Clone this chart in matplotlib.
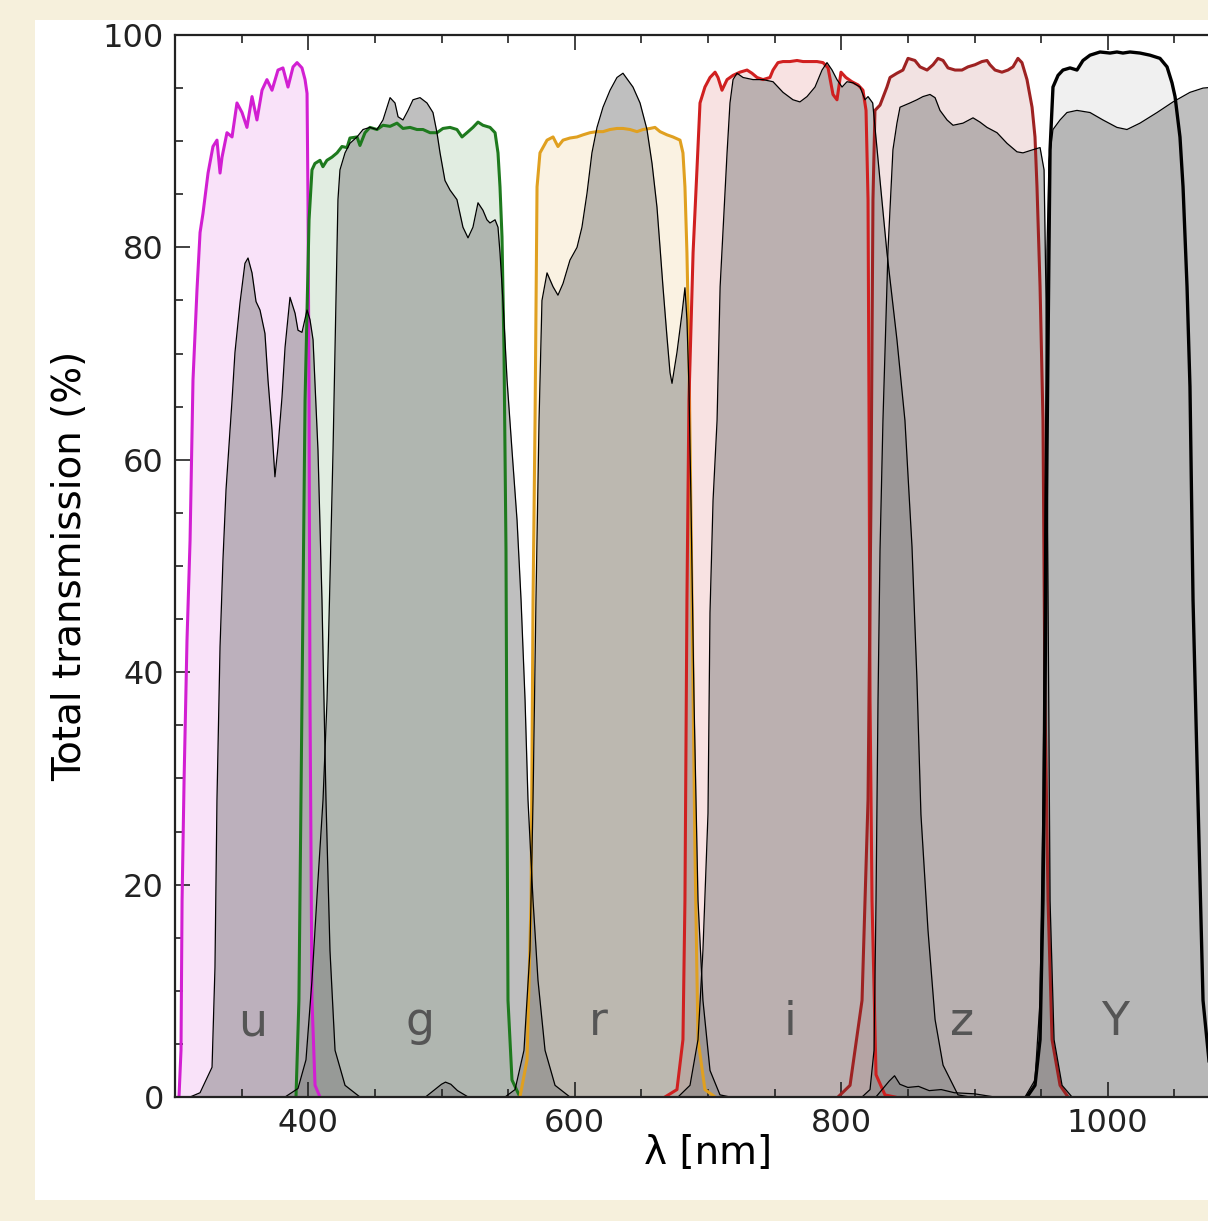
import matplotlib.pyplot as plt
from matplotlib.patches import Rectangle
from matplotlib.ticker import MultipleLocator

# Courbes des filtres (trait coloré) : longueur d'onde (nm) et transmission (%)
u_filtre_nm = [303.0, 304.5, 305.3, 306.8, 309.0, 311.3, 313.5, 316.5, 318.8, 321.0,
               324.8, 328.5, 331.5, 333.8, 335.3, 339.0, 342.8, 346.5, 350.3, 354.0,
               357.8, 361.5, 365.3, 369.0, 372.8, 377.3, 381.0, 384.8, 388.6, 391.6,
               395.3, 397.6, 399.1, 399.8, 400.6, 401.3, 402.8, 405.1, 408.8]
u_filtre_T = [0.0, 4.4, 18.5, 29.8, 43.0, 52.4, 67.5, 76.0, 81.4, 83.2,
              87.0, 89.5, 90.1, 87.0, 88.5, 90.8, 90.4, 93.6, 92.7, 91.3,
              94.2, 92.0, 94.8, 95.8, 94.8, 96.7, 96.9, 95.1, 97.0, 97.4,
              96.9, 95.8, 94.5, 84.5, 65.6, 37.4, 9.1, 1.1, 0.0]

g_filtre_nm = [390.8, 393.0, 395.3, 397.6, 400.6, 402.8, 405.0, 408.8, 411.0, 414.0,
               417.8, 421.6, 425.3, 429.1, 431.3, 436.6, 438.8, 442.6, 446.3, 451.6,
               456.1, 461.4, 466.6, 471.1, 476.4, 481.6, 486.1, 491.4, 496.6, 501.1,
               506.4, 511.6, 515.4, 519.1, 523.6, 527.4, 531.1, 536.4, 540.2, 542.4,
               543.9, 545.4, 546.9, 548.4, 549.2, 549.9, 552.9, 558.9]
g_filtre_T = [0.0, 9.1, 37.4, 65.6, 82.6, 87.3, 87.9, 88.2, 87.6, 88.2,
              88.5, 88.9, 89.5, 89.4, 90.3, 90.4, 89.6, 90.8, 91.3, 91.1,
              91.5, 91.4, 91.7, 91.2, 91.3, 91.1, 91.1, 90.8, 90.8, 91.2,
              91.3, 91.1, 90.4, 90.8, 91.3, 91.8, 91.5, 91.3, 90.8, 88.9,
              85.7, 81.0, 70.3, 51.5, 28.0, 9.1, 1.6, 0.0]

r_filtre_nm = [558.9, 564.2, 567.2, 568.7, 570.2, 571.7, 573.9, 579.2, 583.7, 587.4,
               591.2, 596.4, 601.7, 606.2, 611.4, 616.7, 621.2, 626.5, 631.7, 636.2,
               641.5, 646.7, 651.2, 656.5, 660.2, 664.0, 669.2, 673.7, 679.0, 681.2,
               682.7, 684.2, 685.7, 688.0, 690.2, 692.5, 697.7, 705.3]
r_filtre_T = [0.0, 3.5, 18.5, 46.8, 63.7, 85.7, 88.9, 90.1, 90.4, 89.5,
              90.1, 90.3, 90.4, 90.6, 90.8, 90.9, 90.9, 91.1, 91.2, 91.2,
              91.1, 90.9, 91.1, 91.2, 91.3, 90.9, 90.6, 90.4, 90.1, 88.9,
              85.7, 79.5, 70.1, 46.8, 23.3, 5.4, 0.7, 0.0]

i_filtre_nm = [667.7, 676.7, 681.2, 682.7, 684.2, 685.7, 688.8, 691.7, 694.0, 697.7,
               701.5, 705.3, 707.5, 710.5, 714.3, 718.8, 724.0, 729.3, 733.0, 736.8,
               741.3, 746.5, 748.8, 752.5, 756.3, 761.5, 766.8, 771.3, 776.5, 781.8,
               786.3, 790.1, 793.8, 796.8, 799.8, 803.5, 808.0, 812.6, 816.3, 818.6,
               820.1, 820.8, 821.6, 823.1, 826.1, 832.8, 840.3]
i_filtre_T = [0.0, 0.7, 5.4, 18.5, 46.8, 65.6, 79.5, 87.3, 93.6, 95.1,
              96.0, 96.5, 96.0, 94.8, 95.8, 96.2, 96.5, 96.7, 96.4, 96.0,
              95.8, 96.0, 96.7, 97.4, 97.5, 97.5, 97.6, 97.5, 97.5, 97.5,
              97.4, 96.9, 94.4, 93.9, 96.5, 96.0, 95.6, 95.3, 94.8, 92.9,
              84.5, 65.6, 37.4, 18.5, 2.1, 0.2, 0.0]

z_filtre_nm = [797.6, 806.6, 815.6, 820.1, 822.3, 823.8, 825.3, 829.1, 834.3, 836.6,
               841.8, 846.3, 850.1, 855.3, 859.1, 864.4, 868.9, 872.6, 876.4, 880.1,
               885.4, 890.6, 895.1, 900.4, 905.6, 909.4, 911.6, 915.4, 920.6, 925.1,
               928.9, 932.6, 935.6, 939.4, 943.2, 945.4, 946.9, 949.2, 951.4, 952.9,
               955.2, 958.2, 964.2, 970.2]
z_filtre_T = [0.0, 1.1, 9.1, 28.0, 56.2, 84.5, 92.9, 93.4, 95.1, 96.0,
              96.4, 96.7, 97.8, 97.6, 97.0, 96.7, 97.2, 97.8, 97.6, 96.9,
              96.7, 96.7, 97.0, 97.2, 97.5, 97.6, 97.2, 96.7, 96.5, 96.7,
              97.0, 97.8, 97.4, 95.8, 93.2, 90.4, 85.7, 76.3, 63.7, 37.4,
              18.5, 5.4, 1.1, 0.0]

Y_filtre_nm = [939.4, 945.4, 949.2, 951.4, 952.9, 954.4, 955.9, 956.7, 958.9, 962.7,
               966.4, 971.7, 976.9, 981.4, 986.7, 994.2, 1001.7, 1006.9, 1011.4, 1016.7,
               1024.2, 1031.7, 1039.2, 1044.5, 1048.2, 1050.5, 1054.2, 1056.5, 1059.5, 1061.7,
               1064.0, 1067.7, 1071.5, 1076.7, 1088.0]
Y_filtre_T = [0.0, 1.1, 5.4, 18.5, 37.4, 60.9, 79.8, 89.2, 95.1, 96.2,
              96.7, 96.9, 96.7, 97.6, 98.1, 98.4, 98.3, 98.4, 98.3, 98.4,
              98.3, 98.1, 97.8, 97.0, 95.5, 94.2, 90.4, 85.7, 76.3, 66.9,
              46.8, 28.0, 9.1, 2.5, 0.0]

# Transmission totale (gris)
u_total_nm = [311.3, 318.8, 327.8, 330.0, 331.5, 333.8, 336.0, 338.3, 341.3, 342.8,
              345.0, 348.8, 352.5, 354.8, 357.8, 360.8, 363.8, 367.5, 369.8, 372.8,
              375.0, 377.3, 380.3, 382.6, 386.3, 390.1, 392.3, 395.3, 399.1, 401.3,
              403.6, 407.3, 410.3, 413.3, 416.3, 420.1, 427.6, 438.8]
u_total_T = [0.0, 0.4, 2.8, 12.2, 28.0, 42.4, 50.6, 57.2, 62.8, 65.6,
             70.1, 74.8, 78.5, 79.0, 77.6, 74.9, 74.1, 71.9, 67.5, 62.8,
             58.4, 61.2, 65.9, 70.6, 75.3, 73.8, 72.2, 72.0, 74.1, 73.2,
             71.3, 60.9, 46.8, 28.0, 13.8, 4.4, 1.1, 0.0]

g_total_nm = [382.6, 392.3, 398.3, 402.8, 407.3, 411.1, 414.1, 416.3, 418.6, 420.8,
              422.3, 423.8, 427.6, 431.3, 436.6, 441.1, 446.3, 451.6, 456.1, 461.4,
              465.1, 467.4, 471.1, 474.9, 478.6, 483.9, 489.1, 493.6, 496.6, 498.9,
              502.6, 506.4, 511.6, 516.1, 519.9, 523.6, 527.4, 531.1, 534.1, 536.4,
              540.2, 542.4, 543.9, 546.2, 549.2, 552.9, 556.7, 559.7, 562.7, 564.9,
              568.7, 572.4, 577.7, 585.2, 596.4]
g_total_T = [0.0, 0.8, 3.5, 11.0, 20.4, 28.0, 37.4, 48.7, 60.9, 75.0,
             84.5, 87.3, 88.9, 89.8, 90.4, 91.1, 91.3, 91.1, 92.0, 94.1,
             93.6, 92.3, 92.0, 92.9, 93.9, 94.1, 93.6, 92.7, 90.8, 88.9,
             86.3, 85.4, 84.5, 81.9, 80.9, 81.9, 84.2, 83.5, 82.6, 82.3,
             82.6, 81.9, 79.5, 74.8, 67.5, 60.9, 54.3, 46.8, 37.4, 28.0,
             18.5, 11.0, 4.4, 1.1, 0.0]

r_total_nm = [547.7, 555.2, 561.9, 566.4, 568.7, 570.9, 573.2, 575.4, 579.2, 583.7,
              587.4, 591.2, 596.4, 601.7, 605.4, 609.2, 612.9, 616.7, 621.2, 626.5,
              631.7, 636.2, 643.7, 649.0, 654.2, 658.0, 661.7, 664.0, 666.2, 669.2,
              671.5, 673.0, 676.7, 680.5, 682.7, 684.2, 685.7, 687.2, 689.5, 692.5,
              696.2, 701.5, 709.0, 716.5]
r_total_T = [0.0, 0.7, 4.4, 13.8, 28.0, 46.8, 63.7, 75.0, 77.6, 76.3,
             75.5, 76.6, 78.8, 80.0, 81.9, 85.1, 88.9, 91.3, 93.2, 94.8,
             96.0, 96.4, 95.1, 93.6, 91.1, 87.9, 83.8, 80.0, 76.3, 71.6,
             68.2, 67.2, 70.1, 73.8, 76.2, 73.2, 66.9, 56.2, 37.4, 18.5,
             9.1, 2.5, 0.2, 0.0]

i_total_nm = [677.5, 686.5, 692.5, 696.2, 700.0, 701.5, 703.8, 706.8, 709.1, 714.3,
              716.5, 718.8, 721.8, 726.3, 733.8, 741.3, 748.8, 756.3, 763.8, 769.0,
              774.3, 780.3, 785.6, 789.3, 793.1, 796.8, 800.6, 804.3, 808.8, 814.1,
              817.8, 820.1, 823.6, 829.1, 834.3, 841.8, 847.8, 853.1, 856.8, 859.8,
              865.1, 870.4, 876.4, 887.6, 896.6]
i_total_T = [0.0, 1.1, 5.4, 13.8, 26.7, 45.6, 56.2, 63.7, 76.3, 88.9,
             93.6, 95.8, 96.4, 96.0, 95.8, 95.8, 95.6, 94.6, 93.9, 93.7,
             94.2, 95.1, 96.7, 97.4, 96.7, 95.8, 95.1, 95.6, 95.5, 95.1,
             93.9, 94.2, 93.6, 86.3, 79.5, 71.3, 63.7, 51.8, 39.3, 26.6,
             15.7, 7.3, 3.0, 0.2, 0.0]

z_total_nm = [815.6, 821.6, 824.6, 826.1, 827.6, 829.1, 831.3, 835.1, 838.8, 841.8,
              844.1, 851.6, 856.8, 861.3, 866.6, 870.4, 874.1, 879.4, 883.9, 891.4,
              898.9, 904.1, 909.4, 916.9, 924.4, 931.9, 936.4, 943.9, 949.2, 952.2,
              953.7, 955.2, 956.7, 959.7, 965.7, 973.2]
z_total_T = [0.0, 0.7, 4.4, 18.5, 37.4, 51.5, 63.7, 79.8, 89.2, 91.7,
             93.2, 93.6, 93.9, 94.2, 94.4, 94.1, 92.9, 92.0, 91.5, 91.7,
             92.2, 91.8, 91.3, 90.8, 89.8, 89.0, 88.9, 89.2, 89.4, 87.3,
             75.0, 46.8, 18.5, 5.4, 1.1, 0.0]

Y_total_nm = [937.9, 945.4, 949.2, 951.4, 952.9, 954.4, 955.9, 958.9, 964.2, 969.4,
              976.9, 986.7, 996.4, 1006.9, 1014.4, 1024.2, 1037.0, 1049.0, 1061.7, 1071.5,
              1080.5]
Y_total_T = [0.0, 1.6, 9.1, 28.0, 56.2, 79.8, 88.2, 91.1, 92.0, 92.7,
             92.9, 92.7, 92.0, 91.3, 91.1, 91.7, 92.7, 93.7, 94.6, 95.0,
             95.1]

# Petits résidus près de zéro
fuite_nm = [488, 495, 500, 503, 507, 512, 520]
fuite_T = [0.0, 0.7, 1.2, 1.4, 1.2, 0.6, 0.0]
bruit_nm = [826, 832, 836, 840, 844, 850, 858, 866, 875, 885, 900, 915]
bruit_T = [0.0, 0.9, 1.5, 2.0, 1.2, 0.9, 1.0, 0.6, 0.7, 0.4, 0.3, 0.0]

# Noms des bandes et leur centre (nm)
bandes = ["u", "g", "r", "i", "z", "Y"]
bandes_centre_nm = [358.5, 483.9, 617.5, 761.5, 890.6, 1005.4]


def tracer_filtre(ax, nm, T, couleur, alpha_fond=0.13, lw=2.2):
    ax.fill_between(nm, T, 0, color=couleur, alpha=alpha_fond, lw=0)
    ax.plot(nm, T, color=couleur, lw=lw)


def tracer_total(ax, nm, T):
    ax.fill_between(nm, T, 0, color="#808080", alpha=0.5, lw=0)
    ax.plot(nm, T, color="black", lw=0.9)


def main():
    fig = plt.figure(figsize=(12.08, 12.21), dpi=100)
    fig.patch.set_facecolor("#f6f0dc")
    # panneau blanc derrière le graphique
    fig.add_artist(Rectangle((35 / 1208, 21 / 1221), 1.0, 1180 / 1221,
                             transform=fig.transFigure, facecolor="white",
                             edgecolor="none", zorder=-1))

    # l'axe déborde à droite (image rognée)
    ax = fig.add_axes([175 / 1208, 124 / 1221, 1066 / 1208, 1062 / 1221])

    # Filtres
    tracer_filtre(ax, u_filtre_nm, u_filtre_T, "#d21fd2")
    tracer_filtre(ax, g_filtre_nm, g_filtre_T, "#1e7a1e")
    tracer_filtre(ax, r_filtre_nm, r_filtre_T, "#e0a020")
    tracer_filtre(ax, i_filtre_nm, i_filtre_T, "#d02020")
    tracer_filtre(ax, z_filtre_nm, z_filtre_T, "#9e2222")
    tracer_filtre(ax, Y_filtre_nm, Y_filtre_T, "black", alpha_fond=0.06, lw=2.4)

    # Transmission totale
    for nm, T in [(fuite_nm, fuite_T), (bruit_nm, bruit_T),
                  (u_total_nm, u_total_T), (g_total_nm, g_total_T),
                  (r_total_nm, r_total_T), (i_total_nm, i_total_T),
                  (z_total_nm, z_total_T), (Y_total_nm, Y_total_T)]:
        tracer_total(ax, nm, T)

    for nom, centre in zip(bandes, bandes_centre_nm):
        ax.text(centre, 5.8, nom, fontsize=33, color="#555555",
                ha="center", va="baseline")

    ax.set_xlim(300, 1100)
    ax.set_ylim(0, 100)
    ax.xaxis.set_major_locator(MultipleLocator(200))
    ax.xaxis.set_minor_locator(MultipleLocator(50))
    ax.yaxis.set_major_locator(MultipleLocator(20))
    ax.yaxis.set_minor_locator(MultipleLocator(5))
    ax.tick_params(which="both", direction="in", top=True, right=True,
                   width=1.2, colors="#222222", labelsize=23, pad=8)
    ax.tick_params(which="major", length=11)
    ax.tick_params(which="minor", length=6)
    for spine in ax.spines.values():
        spine.set_linewidth(1.6)
        spine.set_color("#222222")

    ax.set_xlabel("λ [nm]", fontsize=28, labelpad=-4)
    ax.set_ylabel("Total transmission (%)", fontsize=28, labelpad=10)

    fig.savefig("out.png", dpi=100, facecolor=fig.get_facecolor())


if __name__ == "__main__":
    main()
